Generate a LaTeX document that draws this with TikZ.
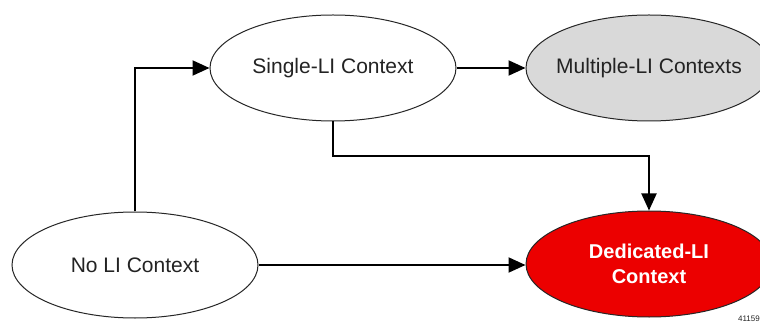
\documentclass[tikz,border=0pt]{standalone}
\usepackage{fontspec}
\setmainfont{Liberation Sans}
\usetikzlibrary{shapes.geometric,arrows.meta}
\definecolor{dred}{RGB}{236,0,0}
\definecolor{lgray}{RGB}{217,217,217}
\definecolor{txt}{RGB}{35,35,35}
\begin{document}
\begin{tikzpicture}[x=1pt,y=-1pt,
  state/.style={ellipse,draw=black!85,line width=1pt,minimum width=246pt,minimum height=106pt,inner xsep=-30pt,inner ysep=0pt,align=center,text=txt,font=\fontsize{21}{25}\selectfont},
  conn/.style={line width=2pt,-{Triangle[length=17pt,width=15pt]}}]
\useasboundingbox (0,0) rectangle (760,323);
\fill[white] (0,0) rectangle (760,323);
\node[state] (single) at (333,68) {Single-LI Context};
\node[state,fill=lgray] (multi) at (649,68) {Multiple-LI Contexts};
\node[state] (noli) at (135,265) {No LI Context};
\node[state,fill=dred,text=white,font=\bfseries\fontsize{20}{25}\selectfont] (ded) at (649,264) {Dedicated-LI\\Context};
\node[anchor=south east,inner sep=0pt,text=txt,font=\fontsize{8}{8}\selectfont] (num) at (760,322) {41159};
\draw[conn] (noli.north) |- (single.west);
\draw[conn] (single.east) -- (multi.west);
\draw[conn] (single.south) -- ++(0,35) -| (ded.north);
\draw[conn] (noli.east) -- (noli.east -| ded.west);
\end{tikzpicture}
\end{document}
